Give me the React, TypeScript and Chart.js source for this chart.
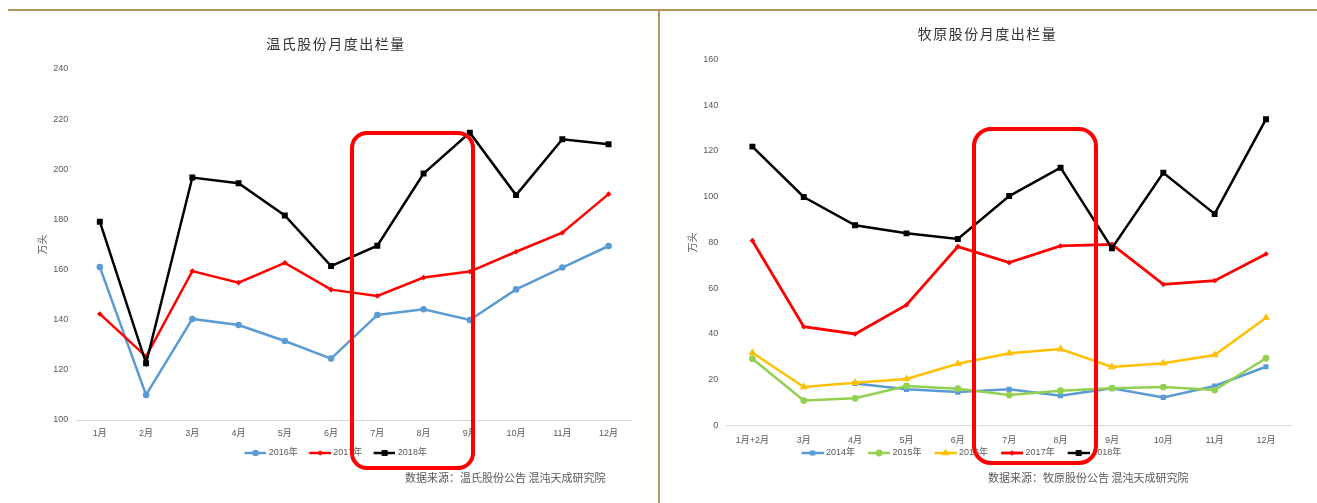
import React, { useEffect, useRef } from 'react';
import { Chart, registerables } from 'chart.js';

Chart.register(...registerables);

// ---------- Data: 温氏股份 ----------
const wsMonths = ['1月', '2月', '3月', '4月', '5月', '6月', '7月', '8月', '9月', '10月', '11月', '12月'];
const wsTicks = [100, 120, 140, 160, 180, 200, 220, 240];
const ws2016 = [161.0, 110.0, 140.3, 137.9, 131.5, 124.5, 141.9, 144.2, 139.9, 152.1, 160.8, 169.4];
const ws2017 = [142.3, 125.3, 159.4, 154.8, 162.7, 152.0, 149.5, 156.8, 159.2, 167.1, 174.7, 190.1];
const ws2018 = [179.1, 122.6, 196.7, 194.4, 181.6, 161.4, 169.5, 198.3, 214.6, 189.7, 212.0, 210.0];

// ---------- Data: 牧原股份 ----------
const myMonths = ['1月+2月', '3月', '4月', '5月', '6月', '7月', '8月', '9月', '10月', '11月', '12月'];
const myTicks = [0, 20, 40, 60, 80, 100, 120, 140, 160];
const my2014 = [null, null, 18.4, 15.8, 14.6, 15.8, 13.0, 16.3, 12.3, 17.3, 25.7];
const my2015 = [29.2, 10.9, 11.9, 17.3, 16.1, 13.3, 15.2, 16.3, 16.8, 15.5, 29.4];
const my2016 = [31.8, 16.8, 18.7, 20.3, 27.0, 31.6, 33.4, 25.6, 27.2, 30.8, 47.1];
const my2017 = [80.8, 43.2, 40.0, 52.7, 78.2, 71.2, 78.5, 79.2, 61.7, 63.3, 75.0];
const my2018 = [121.9, 99.9, 87.5, 84.0, 81.5, 100.3, 112.7, 77.5, 110.5, 92.5, 133.9];

const C_BLUE = '#5B9BD5';
const C_RED = '#FF0000';
const C_BLACK = '#000000';
const C_GREEN = '#92D050';
const C_YELLOW = '#FFC000';
const C_TEXT = '#595959';
const C_TAN = '#B39659';

Chart.defaults.font.family = '"Liberation Sans", "Noto Sans CJK SC", sans-serif';

type Series = {
  label: string;
  data: (number | null)[];
  color: string;
  style: 'circle' | 'rect' | 'triangle' | 'rectRot';
  radius: number;
  width: number;
};

type Layout = {
  pad: { left: number; right: number; top: number; bottom: number };
  yWidth: number;
  yTitlePad: number;
  xHeight: number;
  xPad: number;
  legendPad: number;
  iconMargin: number;
};

function drawMarker(ctx: CanvasRenderingContext2D, style: string, x: number, y: number, r: number) {
  ctx.beginPath();
  if (style === 'circle') {
    ctx.arc(x, y, r, 0, Math.PI * 2);
  } else if (style === 'rect') {
    const s = r * Math.SQRT1_2;
    ctx.rect(x - s, y - s, 2 * s, 2 * s);
  } else if (style === 'rectRot') {
    ctx.moveTo(x, y - r);
    ctx.lineTo(x + r, y);
    ctx.lineTo(x, y + r);
    ctx.lineTo(x - r, y);
    ctx.closePath();
  } else if (style === 'triangle') {
    ctx.moveTo(x, y - r);
    ctx.lineTo(x + r * 0.87, y + r * 0.5);
    ctx.lineTo(x - r * 0.87, y + r * 0.5);
    ctx.closePath();
  }
  ctx.fill();
}

// legend glyph: a short line with the series marker in its middle
function legendIcon(s: Series, margin: number): HTMLCanvasElement {
  const c = document.createElement('canvas');
  c.width = 22 + margin;
  c.height = 10;
  const ctx = c.getContext('2d')!;
  ctx.strokeStyle = s.color;
  ctx.fillStyle = s.color;
  ctx.lineWidth = s.width;
  ctx.beginPath();
  ctx.moveTo(margin, 5);
  ctx.lineTo(margin + 22, 5);
  ctx.stroke();
  drawMarker(ctx, s.style, margin + 11, 5, s.radius);
  return c;
}

function buildConfig(labels: string[], series: Series[], ticks: number[], L: Layout): any {
  const icons = series.map((s) => legendIcon(s, L.iconMargin));
  return {
    type: 'line',
    data: {
      labels,
      datasets: series.map((s, i) => ({
        label: s.label,
        data: s.data,
        borderColor: s.color,
        backgroundColor: s.color,
        borderWidth: s.width,
        pointStyle: s.style,
        pointRadius: s.radius,
        pointBorderWidth: 0,
        pointBackgroundColor: s.color,
        tension: 0,
        spanGaps: false,
        order: series.length - i,
      })),
    },
    options: {
      responsive: false,
      animation: false,
      events: [],
      layout: { padding: L.pad },
      plugins: {
        title: { display: false },
        tooltip: { enabled: false },
        legend: {
          position: 'bottom',
          labels: {
            usePointStyle: true,
            pointStyleWidth: 22 + L.iconMargin - 4,
            padding: L.legendPad,
            color: C_TEXT,
            font: { size: 9 },
            generateLabels: () =>
              series.map((s, i) => ({
                text: s.label,
                pointStyle: icons[i],
                fillStyle: s.color,
                strokeStyle: s.color,
                lineWidth: 0,
                hidden: false,
                datasetIndex: i,
                fontColor: C_TEXT,
              })),
          },
        },
      },
      scales: {
        x: {
          type: 'category',
          offset: true,
          grid: { display: false, drawTicks: false, offset: true },
          border: { display: true, color: '#D9D9D9', width: 1 },
          ticks: {
            padding: L.xPad,
            color: C_TEXT,
            font: { size: 9 },
            autoSkip: false,
            minRotation: 0,
            maxRotation: 0,
          },
          afterFit: (sc: any) => {
            sc.height = L.xHeight;
          },
        },
        y: {
          min: ticks[0],
          max: ticks[ticks.length - 1],
          afterBuildTicks: (sc: any) => {
            sc.ticks = ticks.map((v) => ({ value: v }));
          },
          grid: { display: false, drawTicks: false },
          border: { display: false },
          ticks: { padding: 8.5, color: C_TEXT, font: { size: 9 } },
          title: {
            display: true,
            text: '万头',
            color: C_TEXT,
            font: { size: 10 },
            padding: { top: L.yTitlePad, bottom: 0 },
          },
          afterFit: (sc: any) => {
            sc.width = L.yWidth;
          },
        },
      },
    },
  };
}

const wsSeries: Series[] = [
  { label: '2016年', data: ws2016, color: C_BLUE, style: 'circle', radius: 3.3, width: 2.5 },
  { label: '2017年', data: ws2017, color: C_RED, style: 'rectRot', radius: 2.8, width: 2.5 },
  { label: '2018年', data: ws2018, color: C_BLACK, style: 'rect', radius: 4.2, width: 2.5 },
];

const mySeries: Series[] = [
  { label: '2014年', data: my2014, color: C_BLUE, style: 'rect', radius: 3.6, width: 2.5 },
  { label: '2015年', data: my2015, color: C_GREEN, style: 'circle', radius: 3.4, width: 2.5 },
  { label: '2016年', data: my2016, color: C_YELLOW, style: 'triangle', radius: 4.6, width: 2.5 },
  { label: '2017年', data: my2017, color: C_RED, style: 'rectRot', radius: 2.8, width: 2.8 },
  { label: '2018年', data: my2018, color: C_BLACK, style: 'rect', radius: 4.2, width: 2.5 },
];

const wsLayout: Layout = {
  pad: { left: 36, right: 26.3, top: 69, bottom: 35.5 },
  yWidth: 40.7,
  yTitlePad: 1,
  xHeight: 21,
  xPad: 8.6,
  legendPad: 7.5,
  iconMargin: 5.5,
};

const myLayout: Layout = {
  pad: { left: 0, right: 15.3, top: 59.5, bottom: 35.5 },
  yWidth: 106.7,
  yTitlePad: 67,
  xHeight: 21,
  xPad: 9.6,
  legendPad: 2,
  iconMargin: 13,
};

function LineChart(props: { cfg: () => any; left: number; width: number }) {
  const ref = useRef<HTMLCanvasElement | null>(null);
  useEffect(() => {
    if (!ref.current) return;
    const chart = new Chart(ref.current, props.cfg());
    return () => chart.destroy();
  }, []);
  return (
    <canvas
      ref={ref}
      width={props.width}
      height={503}
      style={{ position: 'absolute', left: props.left, top: 0, width: props.width, height: 503 }}
    />
  );
}

const titleStyle: React.CSSProperties = {
  position: 'absolute',
  width: 260,
  height: 20,
  lineHeight: '20px',
  textAlign: 'center',
  fontFamily: '"Noto Sans CJK SC", sans-serif',
  fontSize: 14,
  letterSpacing: 1.5,
  color: '#333333',
  whiteSpace: 'nowrap',
};

const noteStyle: React.CSSProperties = {
  position: 'absolute',
  height: 16,
  lineHeight: '16px',
  fontFamily: '"Noto Sans CJK SC", sans-serif',
  fontSize: 11,
  color: C_TEXT,
  whiteSpace: 'nowrap',
};

const rectStyle: React.CSSProperties = {
  position: 'absolute',
  border: '4px solid #FF0000',
  boxSizing: 'border-box',
  borderRadius: 17,
};

export default function App() {
  return (
    <div
      style={{
        position: 'fixed',
        left: 0,
        top: 0,
        width: 1317,
        height: 503,
        background: '#ffffff',
        overflow: 'hidden',
      }}
    >
      <div style={{ position: 'absolute', left: 8, top: 9, width: 1309, height: 2, background: C_TAN }} />
      <div style={{ position: 'absolute', left: 658, top: 9, width: 2, height: 494, background: C_TAN }} />

      <LineChart left={0} width={658} cfg={() => buildConfig(wsMonths, wsSeries, wsTicks, wsLayout)} />
      <LineChart left={620} width={687} cfg={() => buildConfig(myMonths, mySeries, myTicks, myLayout)} />

      <div style={{ ...titleStyle, left: 336 - 130, top: 33 }}>温氏股份月度出栏量</div>
      <div style={{ ...titleStyle, left: 987.5 - 130, top: 23 }}>牧原股份月度出栏量</div>

      <div style={{ ...noteStyle, left: 405, top: 469 }}>数据来源：温氏股份公告 混沌天成研究院</div>
      <div style={{ ...noteStyle, left: 988, top: 469 }}>数据来源：牧原股份公告 混沌天成研究院</div>

      <div style={{ ...rectStyle, left: 349.7, top: 131.3, width: 125.6, height: 338.7 }} />
      <div style={{ ...rectStyle, left: 972.3, top: 127, width: 125.7, height: 338, borderRadius: 19 }} />
    </div>
  );
}
